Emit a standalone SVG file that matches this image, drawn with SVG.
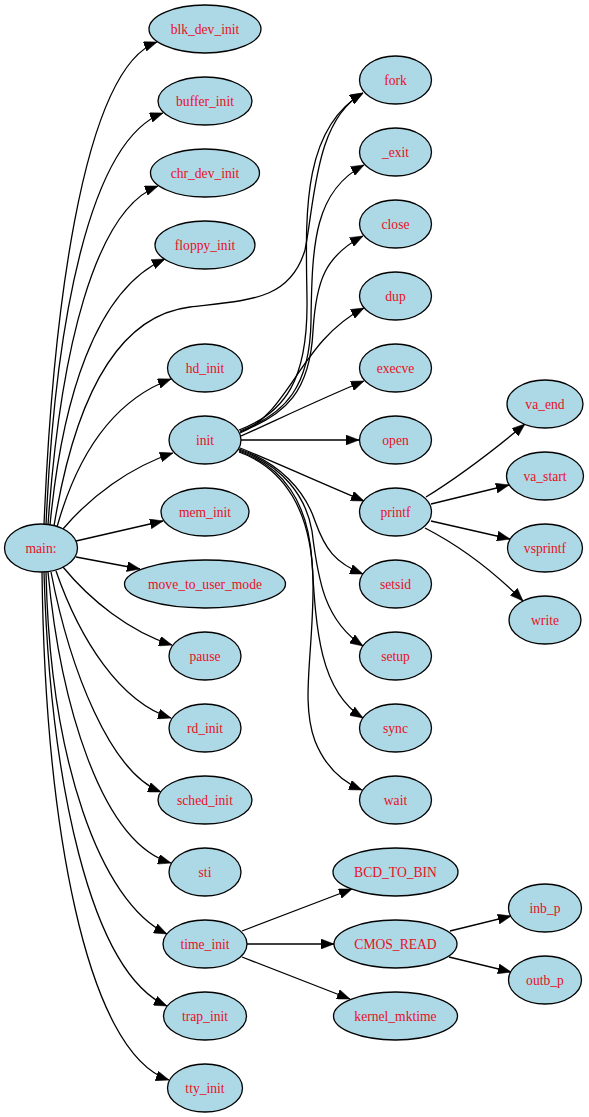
<svg xmlns="http://www.w3.org/2000/svg" width="589" height="1117" viewBox="0 0 589 1117">
<style>
.n ellipse{fill:#add8e6;stroke:#000;stroke-width:1.3}
.n text{font-family:"Liberation Serif","Times New Roman",serif;font-size:13.6px;fill:#e8101e;text-anchor:middle}
#edges path{fill:none;stroke:#000;stroke-width:1.3;marker-end:url(#ah)}
</style>
<defs>
<marker id="ah" markerUnits="userSpaceOnUse" viewBox="0 0 13 10" markerWidth="13" markerHeight="10" refX="13" refY="5" orient="auto">
<path d="M0,0 L13,5 L0,10 z" fill="#000" stroke="#000" stroke-width="0.5"/>
</marker>
</defs>
<rect width="589" height="1117" fill="#fff"/>
<g id="edges">
<path d="M44,525 C52,330 80,70 157,42"/>
<path d="M46,525 C55,320 90,140 163,113"/>
<path d="M48,525 C60,350 95,210 158,186"/>
<path d="M50,525 C62,400 95,290 165,259"/>
<path d="M54,526 C68,440 100,318 190,307 C250,300 290,300 305,250 C315,200 315,120 363,93"/>
<path d="M57,527 C80,445 120,398 171,379"/>
<path d="M63,529 C90,497 130,467 173,453"/>
<path d="M76,541 L163,521"/>
<path d="M76,557 L140,569"/>
<path d="M63,567 C90,600 130,632 172,645"/>
<path d="M56,571 C80,640 120,702 171,718"/>
<path d="M51,572 C70,670 110,772 161,792"/>
<path d="M48,572 C60,700 100,842 171,863"/>
<path d="M46,572 C50,760 100,902 167,934"/>
<path d="M44,572 C50,780 90,972 167,1006"/>
<path d="M42,572 C45,820 85,1052 169,1080"/>
<path d="M239,430 C285,413 308,380 307,300 C306,220 300,130 363,93"/>
<path d="M240,431 C286,414 310,386 311,321 C312,241 315,191 364,165"/>
<path d="M240,432 C286,415 310,391 313,331 C316,281 325,256 363,236"/>
<path d="M240,433 C290,413 300,341 364,308"/>
<path d="M241,436 C262,427 320,399 364,381"/>
<path d="M241,440 L359,440"/>
<path d="M240,448 C270,460 330,487 364,501"/>
<path d="M239,449 C280,463 305,491 315,521 C325,549 335,563 363,574"/>
<path d="M239,450 C282,465 306,496 312,531 C318,581 325,621 363,646"/>
<path d="M239,451 C283,467 308,501 312,561 C316,631 320,691 363,718"/>
<path d="M239,452 C284,468 312,511 313,581 C314,651 300,701 315,741 C325,766 340,781 362,790"/>
<path d="M426,497 C460,476 495,449 525,424"/>
<path d="M431,504 L509,485"/>
<path d="M431,521 L510,539"/>
<path d="M425,528 C460,546 495,573 523,601"/>
<path d="M242,931 L352,889"/>
<path d="M247,944 L334,944"/>
<path d="M242,957 L350,999"/>
<path d="M450,931 L511,916"/>
<path d="M449,957 L511,972"/>
</g>
<g id="main" class="n"><ellipse cx="41" cy="548" rx="36.5" ry="24"/><text x="41" y="552.5">main:</text></g>
<g id="blk_dev_init" class="n"><ellipse cx="205" cy="29" rx="56" ry="24"/><text x="205" y="33.5">blk_dev_init</text></g>
<g id="buffer_init" class="n"><ellipse cx="205" cy="101" rx="47" ry="24"/><text x="205" y="105.5">buffer_init</text></g>
<g id="chr_dev_init" class="n"><ellipse cx="205" cy="173" rx="54.5" ry="24"/><text x="205" y="177.5">chr_dev_init</text></g>
<g id="floppy_init" class="n"><ellipse cx="205" cy="245" rx="50" ry="24"/><text x="205" y="249.5">floppy_init</text></g>
<g id="hd_init" class="n"><ellipse cx="205" cy="368" rx="37.5" ry="24"/><text x="205" y="372.5">hd_init</text></g>
<g id="init" class="n"><ellipse cx="205" cy="440" rx="36" ry="24"/><text x="205" y="444.5">init</text></g>
<g id="mem_init" class="n"><ellipse cx="205" cy="512" rx="44" ry="24"/><text x="205" y="516.5">mem_init</text></g>
<g id="move_to_user_mode" class="n"><ellipse cx="205" cy="584" rx="80.5" ry="24"/><text x="205" y="588.5">move_to_user_mode</text></g>
<g id="pause" class="n"><ellipse cx="205" cy="656" rx="36" ry="24"/><text x="205" y="660.5">pause</text></g>
<g id="rd_init" class="n"><ellipse cx="205" cy="728" rx="36" ry="24"/><text x="205" y="732.5">rd_init</text></g>
<g id="sched_init" class="n"><ellipse cx="205" cy="800" rx="47" ry="24"/><text x="205" y="804.5">sched_init</text></g>
<g id="sti" class="n"><ellipse cx="205" cy="872" rx="36" ry="24"/><text x="205" y="876.5">sti</text></g>
<g id="time_init" class="n"><ellipse cx="205" cy="944" rx="42" ry="24"/><text x="205" y="948.5">time_init</text></g>
<g id="trap_init" class="n"><ellipse cx="205" cy="1016" rx="41.5" ry="24"/><text x="205" y="1020.5">trap_init</text></g>
<g id="tty_init" class="n"><ellipse cx="205" cy="1088" rx="37.5" ry="24"/><text x="205" y="1092.5">tty_init</text></g>
<g id="fork" class="n"><ellipse cx="395.5" cy="80" rx="36" ry="24"/><text x="395.5" y="84.5">fork</text></g>
<g id="_exit" class="n"><ellipse cx="395.5" cy="152" rx="36" ry="24"/><text x="395.5" y="156.5">_exit</text></g>
<g id="close" class="n"><ellipse cx="395.5" cy="224" rx="36" ry="24"/><text x="395.5" y="228.5">close</text></g>
<g id="dup" class="n"><ellipse cx="395.5" cy="296" rx="36" ry="24"/><text x="395.5" y="300.5">dup</text></g>
<g id="execve" class="n"><ellipse cx="395.5" cy="368" rx="36" ry="24"/><text x="395.5" y="372.5">execve</text></g>
<g id="open" class="n"><ellipse cx="395.5" cy="440" rx="36" ry="24"/><text x="395.5" y="444.5">open</text></g>
<g id="printf" class="n"><ellipse cx="395.5" cy="512" rx="36" ry="24"/><text x="395.5" y="516.5">printf</text></g>
<g id="setsid" class="n"><ellipse cx="395.5" cy="584" rx="36" ry="24"/><text x="395.5" y="588.5">setsid</text></g>
<g id="setup" class="n"><ellipse cx="395.5" cy="656" rx="36" ry="24"/><text x="395.5" y="660.5">setup</text></g>
<g id="sync" class="n"><ellipse cx="395.5" cy="728" rx="36" ry="24"/><text x="395.5" y="732.5">sync</text></g>
<g id="wait" class="n"><ellipse cx="395.5" cy="800" rx="36" ry="24"/><text x="395.5" y="804.5">wait</text></g>
<g id="BCD_TO_BIN" class="n"><ellipse cx="395.5" cy="872" rx="62.5" ry="24"/><text x="395.5" y="876.5">BCD_TO_BIN</text></g>
<g id="CMOS_READ" class="n"><ellipse cx="395.5" cy="944" rx="61.5" ry="24"/><text x="395.5" y="948.5">CMOS_READ</text></g>
<g id="kernel_mktime" class="n"><ellipse cx="395.5" cy="1016" rx="62" ry="24"/><text x="395.5" y="1020.5">kernel_mktime</text></g>
<g id="va_end" class="n"><ellipse cx="545" cy="404" rx="38" ry="24"/><text x="545" y="408.5">va_end</text></g>
<g id="va_start" class="n"><ellipse cx="545" cy="476" rx="38.5" ry="24"/><text x="545" y="480.5">va_start</text></g>
<g id="vsprintf" class="n"><ellipse cx="545" cy="548" rx="37.5" ry="24"/><text x="545" y="552.5">vsprintf</text></g>
<g id="write" class="n"><ellipse cx="545" cy="620" rx="36" ry="24"/><text x="545" y="624.5">write</text></g>
<g id="inb_p" class="n"><ellipse cx="545" cy="908" rx="36.5" ry="24"/><text x="545" y="912.5">inb_p</text></g>
<g id="outb_p" class="n"><ellipse cx="545" cy="980" rx="36.5" ry="24"/><text x="545" y="984.5">outb_p</text></g>
</svg>
